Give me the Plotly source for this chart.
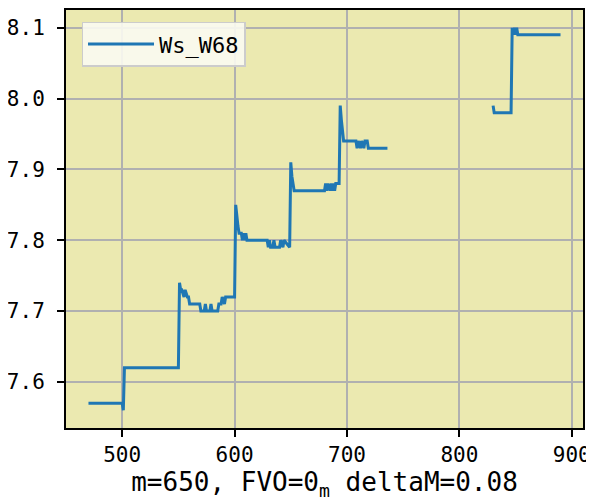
import plotly.graph_objects as go

# Series Ws_W68 (None = gap in data)
x_vals = [470, 500, 501, 502, 550, 551, 552, 553, 555, 556, 558, 559, 560, 569, 570, 573, 574, 575,
          578, 579, 580, 585, 586, 588, 589, 591, 592, 600,
          601, 602, 603, 604, 606, 607, 608, 609, 610, 611, 629, 630, 631, 632, 634, 635, 636, 640,
          641, 643, 644, 649,
          650, 651, 652, 653, 680, 681, 682, 683, 685, 686, 687, 688, 689, 690, 693,
          694, 695, 696, 697, 708, 709, 710, 712, 713, 715, 716, 718, 719, 736,
          None,
          830, 831, 846, 847, 848, 849, 850, 851, 852, 890]
y_vals = [7.57, 7.57, 7.56, 7.62, 7.62, 7.74, 7.73, 7.73, 7.72, 7.73, 7.72, 7.72, 7.71, 7.71, 7.70, 7.70, 7.71, 7.70,
          7.70, 7.71, 7.70, 7.70, 7.71, 7.71, 7.72, 7.71, 7.72, 7.72,
          7.85, 7.83, 7.82, 7.81, 7.81, 7.80, 7.81, 7.80, 7.81, 7.80, 7.80, 7.79, 7.80, 7.79, 7.79, 7.80, 7.79, 7.79,
          7.80, 7.79, 7.80, 7.79,
          7.91, 7.89, 7.88, 7.87, 7.87, 7.88, 7.87, 7.88, 7.87, 7.88, 7.87, 7.88, 7.87, 7.88, 7.88,
          7.99, 7.97, 7.95, 7.94, 7.94, 7.93, 7.94, 7.93, 7.94, 7.93, 7.94, 7.94, 7.93, 7.93,
          None,
          7.99, 7.98, 7.98, 8.10, 8.09, 8.10, 8.09, 8.10, 8.09, 8.09]

x_ticks = [500, 600, 700, 800, 900]
y_ticks = [7.6, 7.7, 7.8, 7.9, 8.0, 8.1]
y_tick_labels = ["7.6", "7.7", "7.8", "7.9", "8.0", "8.1"]
series_name = "Ws_W68"
x_title = "m=650, FVO=0<sub>m</sub> deltaM=0.08"

FONT = "DejaVu Sans Mono, Liberation Mono, monospace"

fig = go.Figure()
fig.add_trace(go.Scatter(
    x=x_vals, y=y_vals, mode="lines", name=series_name,
    line=dict(color="#1f77b4", width=3),
    connectgaps=False,
))

# page body has an 8px margin, so the figure is sized 8px smaller on each side
fig.update_layout(
    width=586, height=495,
    margin=dict(l=58, r=11, t=2, b=75, autoexpand=False),
    paper_bgcolor="white",
    plot_bgcolor="#EBE9B0",
    font=dict(family=FONT, size=21, color="black"),
    showlegend=True,
    legend=dict(
        x=0.03, y=0.972, xanchor="left", yanchor="top",
        bgcolor="rgba(251,251,242,0.9)", bordercolor="#cccccc", borderwidth=1.5,
        font=dict(size=22, family=FONT),
        itemwidth=66,
    ),
)
fig.update_xaxes(
    range=[450, 910], tickvals=x_ticks,
    showgrid=True, gridcolor="#b0b0b0", gridwidth=1.5,
    ticks="outside", ticklen=7, tickwidth=1.5, tickcolor="black",
    showline=True, linecolor="black", linewidth=2, mirror=True,
    zeroline=False, automargin=False,
    title=dict(text=x_title, font=dict(size=26, family=FONT), standoff=2),
)
fig.update_yaxes(
    range=[7.535, 8.125], tickvals=y_ticks, ticktext=y_tick_labels,
    showgrid=True, gridcolor="#b0b0b0", gridwidth=1.5,
    ticks="outside", ticklen=7, tickwidth=1.5, tickcolor="black",
    ticklabelstandoff=8,
    showline=True, linecolor="black", linewidth=2, mirror=True,
    zeroline=False, automargin=False,
)

fig.write_html("out.html")
